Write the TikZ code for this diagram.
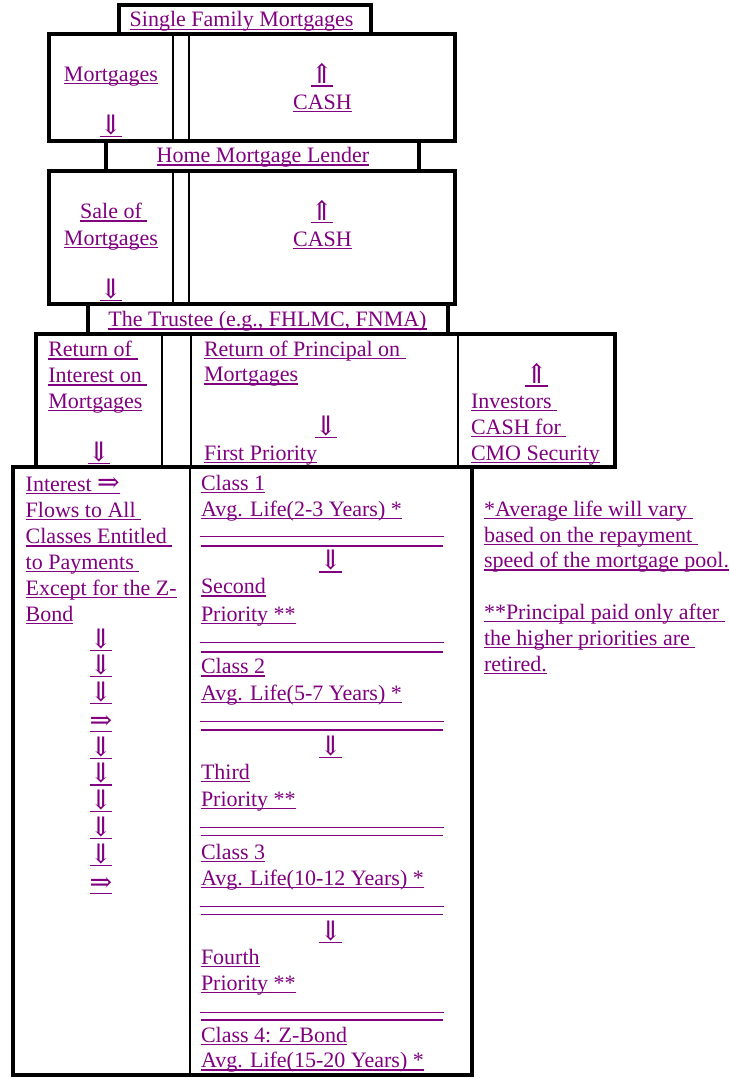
\documentclass[tikz,border=0pt]{standalone}
\usepackage{fontspec}
\setmainfont{Liberation Serif}
\newfontfamily\arrfont{DejaVu Serif}
\definecolor{lnk}{HTML}{800080}
\newsavebox\ulbox
\newcommand\ulx[1]{\sbox\ulbox{#1}\rlap{\vrule height -1.6pt depth 3pt width \wd\ulbox}\usebox\ulbox}
\newcommand\arw[1]{{\arrfont\fontsize{27}{26}\selectfont #1}}
\tikzset{
  txt/.style={inner sep=0pt, outer sep=0pt, text=lnk, font=\fontsize{22}{26}\selectfont},
  lt/.style={txt, anchor=base west},
  ct/.style={txt, anchor=base},
  outerbox/.style={draw=black, line width=4pt},
  innerline/.style={draw=black, line width=2pt},
  rulethin/.style={draw=lnk, line width=1pt},
  rulethick/.style={draw=lnk, line width=2pt}
}
\begin{document}
\begin{tikzpicture}[x=1pt,y=-1pt]
\useasboundingbox (0,0) rectangle (730,1078);
% boxes
\draw[outerbox] (119,5.4) rectangle (370.5,34.2);
\draw[outerbox] (48.5,34.2) rectangle (455,141.3);
\draw[innerline] (173.3,34.2) -- (173.3,141.3);
\draw[innerline] (188.5,34.2) -- (188.5,141.3);
\draw[outerbox] (106,141.3) rectangle (419,170.7);
\draw[outerbox] (48.5,170.7) rectangle (455,303.7);
\draw[innerline] (173.3,170.7) -- (173.3,303.7);
\draw[innerline] (188.5,170.7) -- (188.5,303.7);
\draw[outerbox] (87.5,303.7) rectangle (448,334.3);
\draw[outerbox] (36,334.3) rectangle (614.7,466.7);
\draw[innerline] (162,334.3) -- (162,466.7);
\draw[innerline] (190.5,334.3) -- (190.5,466.7);
\draw[innerline] (458,334.3) -- (458,466.7);
\draw[outerbox] (13.3,466.7) rectangle (471.5,1075.3);
\draw[innerline] (189.5,466.7) -- (189.5,1075.3);
% box A
\node[ct] (sfm) at (241.5,27) {\ulx{Single Family Mortgages}};
% box B
\node[ct] (mtg1) at (111,81.5) {\ulx{Mortgages}};
\node[ct] (dn1) at (111,134.4) {\ulx{\arw{⇓}}};
\node[ct] (up1) at (322,83.7) {\ulx{\arw{⇑}}};
\node[ct] (cash1) at (322.5,109.4) {\ulx{CASH}};
% box C
\node[ct] (hml) at (263,162.7) {\ulx{Home Mortgage Lender}};
% box D
\node[ct] (sale) at (113.8,218.7) {\ulx{Sale of\ }};
\node[ct] (mtg2) at (111,245.4) {\ulx{Mortgages}};
\node[ct] (dn2) at (111,298.4) {\ulx{\arw{⇓}}};
\node[ct] (up2) at (322,220.4) {\ulx{\arw{⇑}}};
\node[ct] (cash2) at (322.5,246) {\ulx{CASH}};
% box E
\node[ct] (trustee) at (267.5,326.7) {\ulx{The Trustee (e.g., FHLMC, FNMA)}};
% box F
\node[lt] (ri1) at (48.3,356.7) {\ulx{Return of\ }};
\node[lt] (ri2) at (48.3,382.7) {\ulx{Interest on\ }};
\node[lt] (ri3) at (48.3,408.4) {\ulx{Mortgages}};
\node[ct] (dn3) at (99,461) {\ulx{\arw{⇓}}};
\node[lt] (rp1) at (204,356) {\ulx{Return of Principal on\ }};
\node[lt] (rp2) at (204,381.7) {\ulx{Mortgages}};
\node[ct] (dn4) at (326,435) {\ulx{\arw{⇓}}};
\node[lt] (fp) at (204,460.4) {\ulx{First Priority}};
\node[ct] (up3) at (536.7,383.7) {\ulx{\arw{⇑}}};
\node[lt] (inv1) at (471,408.4) {\ulx{Investors\ }};
\node[lt] (inv2) at (471,434.4) {\ulx{CASH for\ }};
\node[lt] (inv3) at (471,460.4) {\ulx{CMO Security}};
% box G left
\node[lt] (il1) at (25.7,491) {\ulx{Interest \arw{⇒}}};
\node[lt] (il2) at (25.7,517) {\ulx{Flows to All\ }};
\node[lt] (il3) at (25.7,543.7) {\ulx{Classes Entitled\ }};
\node[lt] (il4) at (25.7,569.4) {\ulx{to Payments\ }};
\node[lt] (il5) at (25.7,595) {\ulx{Except for the Z-}};
\node[lt] (il6) at (25.7,621) {\ulx{Bond}};
\node[ct] (la1) at (101,648.4) {\ulx{\arw{⇓}}};
\node[ct] (la2) at (101,674.4) {\ulx{\arw{⇓}}};
\node[ct] (la3) at (101,701) {\ulx{\arw{⇓}}};
\node[ct] (la4) at (101,729.4) {\ulx{\arw{⇒}}};
\node[ct] (la5) at (101,756) {\ulx{\arw{⇓}}};
\node[ct] (la6) at (101,782.7) {\ulx{\arw{⇓}}};
\node[ct] (la7) at (101,809.4) {\ulx{\arw{⇓}}};
\node[ct] (la8) at (101,836) {\ulx{\arw{⇓}}};
\node[ct] (la9) at (101,863.4) {\ulx{\arw{⇓}}};
\node[ct] (la10) at (101,891) {\ulx{\arw{⇒}}};
% box G right
\node[lt] (c1a) at (201,490) {\ulx{Class 1}};
\node[lt] (c1b) at (201,516.4) {\ulx{Avg. Life(2-3 Years) *}};
\draw[rulethin] (200,536.7) -- (444,536.7);
\draw[rulethick] (201,546) -- (443,546);
\node[ct] (rd1) at (330.7,569.7) {\ulx{\arw{⇓}}};
\node[lt] (p2a) at (201,593.7) {\ulx{Second}};
\node[lt] (p2b) at (201,621) {\ulx{Priority **}};
\draw[rulethin] (200,642.7) -- (444,642.7);
\draw[rulethick] (201,651.7) -- (443,651.7);
\node[lt] (c2a) at (201,673.7) {\ulx{Class 2}};
\node[lt] (c2b) at (201,700) {\ulx{Avg. Life(5-7 Years) *}};
\draw[rulethin] (200,721.7) -- (444,721.7);
\draw[rulethick] (201,730) -- (443,730);
\node[ct] (rd2) at (330.7,755) {\ulx{\arw{⇓}}};
\node[lt] (p3a) at (201,779.4) {\ulx{Third}};
\node[lt] (p3b) at (201,806) {\ulx{Priority **}};
\draw[rulethin] (200,827.7) -- (444,827.7);
\draw[rulethin] (201,835) -- (443,835);
\node[lt] (c3a) at (201,859.4) {\ulx{Class 3}};
\node[lt] (c3b) at (201,885) {\ulx{Avg. Life(10-12 Years) *}};
\draw[rulethin] (200,906.7) -- (444,906.7);
\draw[rulethin] (201,914.3) -- (443,914.3);
\node[ct] (rd3) at (330.7,940) {\ulx{\arw{⇓}}};
\node[lt] (p4a) at (201,964.4) {\ulx{Fourth}};
\node[lt] (p4b) at (201,990) {\ulx{Priority **}};
\draw[rulethin] (200,1012.7) -- (444,1012.7);
\draw[rulethick] (201,1020) -- (443,1020);
\node[lt] (c4a) at (201,1042) {\ulx{Class 4: Z-Bond}};
\node[lt] (c4b) at (201,1067.7) {\ulx{Avg. Life(15-20 Years) *}};
% notes
\node[lt] (n1) at (484,516) {\ulx{*Average life will vary\ }};
\node[lt] (n2) at (484,542) {\ulx{based on the repayment\ }};
\node[lt] (n3) at (484,567.7) {\ulx{speed of the mortgage pool.}};
\node[lt] (n4) at (484,619.4) {\ulx{**Principal paid only after\ }};
\node[lt] (n5) at (484,645) {\ulx{the higher priorities are\ }};
\node[lt] (n6) at (484,671) {\ulx{retired.}};
\end{tikzpicture}
\end{document}
